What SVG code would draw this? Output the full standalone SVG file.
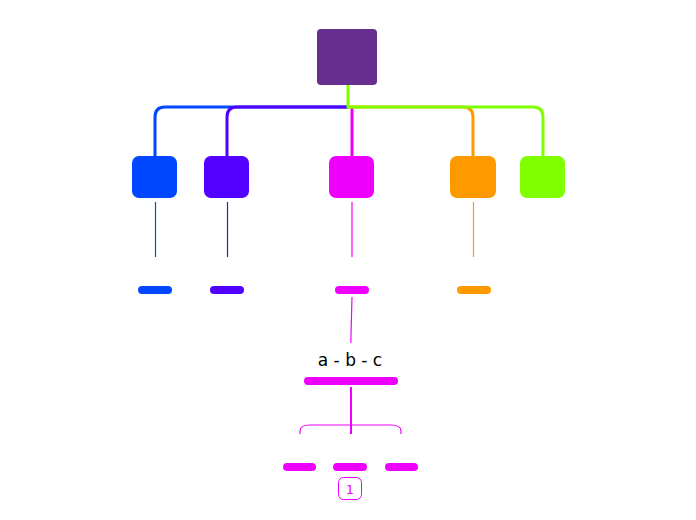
<svg xmlns="http://www.w3.org/2000/svg" width="696" height="520" viewBox="0 0 696 520">
<style>
.thick{fill:none;stroke-width:3;stroke-linecap:butt}
.thin{fill:none;stroke-width:1.2}
.lbl{font-family:"DejaVu Sans",sans-serif;font-size:17px;fill:#000;text-anchor:middle}
.badge{font-family:"DejaVu Sans",sans-serif;font-size:13px;fill:#ee00ff;text-anchor:middle}
</style>
<rect width="696" height="520" fill="#fff"/>
<g id="connectors">
<path class="thick" stroke="#0047ff" d="M348,107 H165 Q155,107 155,117 V156"/>
<path class="thick" stroke="#5200ff" d="M348,107 H237 Q227,107 227,117 V156"/>
<path class="thick" stroke="#ee00ff" d="M352,107 V156"/>
<path class="thick" stroke="#ff9900" d="M348,107 H463 Q473,107 473,117 V156"/>
<path class="thick" stroke="#80ff00" d="M348,85 V107 H533 Q543,107 543,117 V156"/>
<path class="thin" stroke="#0047ff" d="M155.5,202 V257"/>
<path class="thin" stroke="#5200ff" d="M227.5,202 V257"/>
<path class="thin" stroke="#ee00ff" d="M352,202 V257"/>
<path class="thin" stroke="#ff9900" d="M473.5,202 V257"/>
<path class="thin" stroke="#ee00ff" d="M352,297 L350.8,343"/>
<path stroke="#ee00ff" stroke-width="2" fill="none" d="M351,387 V434"/>
<path class="thin" stroke="#ee00ff" d="M300,434 V431 Q300,425 310,425 H391 Q401,425 401,431 V434"/>
</g>
<g id="root"><rect x="317" y="29" width="60" height="56" rx="4" fill="#672d91"/></g>
<g id="n-blue"><rect x="132" y="156" width="45" height="42" rx="7" fill="#0047ff"/></g>
<g id="n-violet"><rect x="204" y="156" width="45" height="42" rx="7" fill="#5200ff"/></g>
<g id="n-magenta"><rect x="329" y="156" width="45" height="42" rx="7" fill="#ee00ff"/></g>
<g id="n-orange"><rect x="450" y="156" width="46" height="42" rx="7" fill="#ff9900"/></g>
<g id="n-green"><rect x="520" y="156" width="45" height="42" rx="7" fill="#80ff00"/></g>
<g id="p-blue"><rect x="138" y="286" width="34" height="8" rx="4" fill="#0047ff"/></g>
<g id="p-violet"><rect x="210" y="286" width="34" height="8" rx="4" fill="#5200ff"/></g>
<g id="p-magenta"><rect x="335" y="286" width="34" height="8" rx="4" fill="#ee00ff"/></g>
<g id="p-orange"><rect x="457" y="286" width="34" height="8" rx="4" fill="#ff9900"/></g>
<g id="abc"><text class="lbl" x="350" y="366">a - b - c</text><rect x="304" y="377" width="94" height="8" rx="4" fill="#ee00ff"/></g>
<g id="c1"><rect x="283" y="463" width="33" height="8" rx="4" fill="#ee00ff"/></g>
<g id="c2"><rect x="333" y="463" width="34" height="8" rx="4" fill="#ee00ff"/></g>
<g id="c3"><rect x="385" y="463" width="33" height="8" rx="4" fill="#ee00ff"/></g>
<g id="badge"><rect x="338.5" y="477.5" width="23" height="22" rx="5" fill="#fff" stroke="#ee00ff" stroke-width="1"/><text class="badge" x="350" y="493.5">1</text></g>
</svg>
